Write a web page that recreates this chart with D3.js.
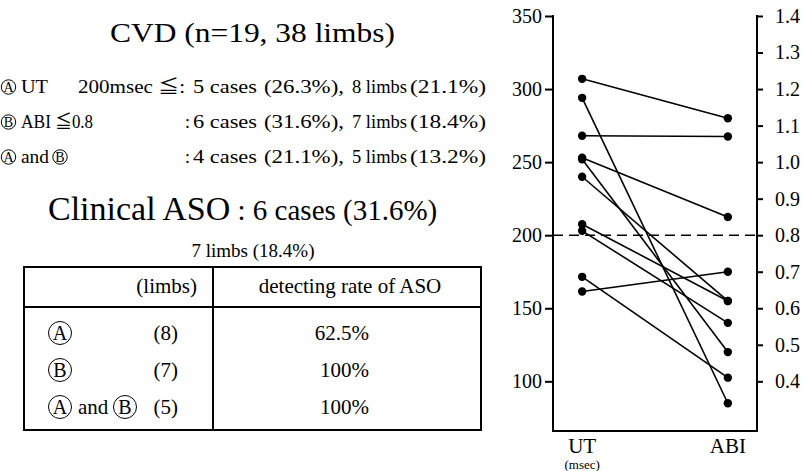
<!DOCTYPE html>
<html><head><meta charset="utf-8">
<script src="https://cdn.jsdelivr.net/npm/d3@7"></script>
<style>
html,body{margin:0;padding:0;background:#fff;}
svg{display:block;font-family:"Liberation Serif","Times New Roman","Noto Sans CJK JP",serif;}
</style></head><body>
<svg id="c" width="804" height="471"></svg>
<script>
// ---------- chart data ----------
const measureLabels = ["UT", "ABI"];
const utMsec   = [307, 294, 268, 253, 252, 240, 207.5, 203, 171.5, 161.5];
const abiValue = [1.12, 0.34, 1.07, 0.85, 0.48, 0.62, 0.62, 0.56, 0.41, 0.70];
const msecTicks = [100, 150, 200, 250, 300, 350];
const abiTicks  = [0.4, 0.5, 0.6, 0.7, 0.8, 0.9, 1.0, 1.1, 1.2, 1.3, 1.4];
const msecThreshold = 200;
const abiAtThreshold = 0.8;

// ---------- text data ----------
const titleText = "CVD (n=19, 38 limbs)";
const critMarks = [["A"], ["B"], ["A", "B"]];
const critNames = ["UT", "ABI", "and"];
const critRules = ["200msec ≦:", "≦0.8", ""];
const caseCounts = ["5 cases", "6 cases", "4 cases"];
const casePcts = ["(26.3%),", "(31.6%),", "(21.1%),"];
const limbCounts = ["8 limbs", "7 limbs", "5 limbs"];
const limbPcts = ["(21.1%)", "(18.4%)", "(13.2%)"];
const asoMain = "Clinical ASO";
const asoSub = ": 6 cases (31.6%)";
const asoLimbs = "7 limbs (18.4%)";
const tableHeaders = ["(limbs)", "detecting rate of ASO"];
const tableLimbs = ["(8)", "(7)", "(5)"];
const tableRates = ["62.5%", "100%", "100%"];

const svg = d3.select("#c");

// ---------- chart ----------
const L = 553, R = 757, T = 16, B = 431;
const x = d3.scalePoint().domain(measureLabels).range([L, R]).padding(0.2);
const yMs = d3.scaleLinear().domain([66, 350]).range([B, T]);
const abiOf = m => abiAtThreshold + (m - msecThreshold) / 250;
const yAbi = d3.scaleLinear().domain([abiOf(66), abiOf(350)]).range([B, T]);

const g = svg.append("g");
const leftAxis = d3.axisLeft(yMs).tickValues(msecTicks).tickSize(8).tickPadding(3);
const rightAxis = d3.axisRight(yAbi).tickValues(abiTicks).tickSize(6).tickPadding(12).tickFormat(d3.format(".1f"));
const ga = g.append("g").attr("transform", `translate(${L},0)`).call(leftAxis);
const gb = g.append("g").attr("transform", `translate(${R},0)`).call(rightAxis);
[ga, gb].forEach(a => {
  a.select(".domain").remove();
  a.selectAll(".tick line").attr("stroke", "#000").attr("stroke-width", 2);
  a.selectAll(".tick text").attr("fill", "#000").style("font-size", "20px")
    .style("font-family", '"Liberation Serif","Times New Roman",serif');
});
g.append("line").attr("x1", L).attr("x2", L).attr("y1", T - 1).attr("y2", B + 1).attr("stroke", "#000").attr("stroke-width", 2);
g.append("line").attr("x1", R).attr("x2", R).attr("y1", T - 1).attr("y2", B + 1).attr("stroke", "#000").attr("stroke-width", 2);
g.append("line").attr("x1", L).attr("x2", R).attr("y1", B).attr("y2", B).attr("stroke", "#000").attr("stroke-width", 2);

g.append("line").attr("x1", L).attr("x2", R)
  .attr("y1", yMs(msecThreshold)).attr("y2", yMs(msecThreshold))
  .attr("stroke", "#000").attr("stroke-width", 1.6).attr("stroke-dasharray", "10,6");

const pairs = utMsec.map((u, i) => ({u, a: abiValue[i]}));
g.selectAll("line.pair").data(pairs).enter().append("line").attr("class", "pair")
  .attr("x1", x("UT")).attr("y1", d => yMs(d.u))
  .attr("x2", x("ABI")).attr("y2", d => yAbi(d.a))
  .attr("stroke", "#000").attr("stroke-width", 1.6);
g.selectAll("circle.ut").data(pairs).enter().append("circle")
  .attr("cx", x("UT")).attr("cy", d => yMs(d.u)).attr("r", 4.2).attr("fill", "#000");
g.selectAll("circle.abi").data(pairs).enter().append("circle")
  .attr("cx", x("ABI")).attr("cy", d => yAbi(d.a)).attr("r", 4.2).attr("fill", "#000");

g.selectAll("text.xl").data(measureLabels).enter().append("text")
  .attr("x", d => x(d)).attr("y", 453).attr("text-anchor", "middle")
  .style("font-size", "21px").text(d => d);
g.append("text").attr("x", x("UT")).attr("y", 469).attr("text-anchor", "middle")
  .style("font-size", "13px").text("(msec)");

// ---------- left text ----------
const circ = (sel, cx, cy, r, letter, fs) => {
  sel.append("circle").attr("cx", cx).attr("cy", cy).attr("r", r)
    .attr("fill", "none").attr("stroke", "#000").attr("stroke-width", 1);
  sel.append("text").attr("x", cx).attr("y", cy + fs * 0.34).attr("text-anchor", "middle")
    .style("font-size", fs + "px").text(letter);
};
const seg = (sel, xx, yy, txt, fs, w) => {
  const t = sel.append("text").attr("x", xx).attr("y", yy).style("font-size", fs + "px").text(txt);
  if (w) t.attr("textLength", w).attr("lengthAdjust", "spacingAndGlyphs");
  return t;
};

svg.append("text").attr("x", 110).attr("y", 42).style("font-size", "28px")
  .attr("textLength", 285).attr("lengthAdjust", "spacingAndGlyphs").text(titleText);

const rowY = [93, 128, 163];
const lt = svg.append("g");
rowY.forEach((yy, i) => {
  circ(lt, 8.5, yy - 6, 7.2, critMarks[i][0], 14);
  if (i === 0) { seg(lt, 21, yy, critNames[i], 18, 27); seg(lt, 78, yy, critRules[i], 18, 107); }
  if (i === 1) { seg(lt, 21, yy, critNames[i], 18, 30); seg(lt, 55, yy, critRules[i], 18, 38); }
  if (i === 2) { seg(lt, 21, yy, critNames[i], 18, 28); circ(lt, 60, yy - 6, 7.2, critMarks[i][1], 14); }
  if (i > 0) seg(lt, 185, yy, ":", 18);
  seg(lt, 193, yy, caseCounts[i], 18, 64);
  seg(lt, 264, yy, casePcts[i], 18, 80);
  seg(lt, 352, yy, limbCounts[i], 18, 55);
  seg(lt, 410, yy, limbPcts[i], 18, 76);
});

const ct = svg.append("text").attr("x", 48).attr("y", 220);
ct.append("tspan").style("font-size", "34px").text(asoMain);
ct.append("tspan").style("font-size", "29px").text(" " + asoSub);
svg.append("text").attr("x", 253).attr("y", 257).attr("text-anchor", "middle")
  .style("font-size", "19px").text(asoLimbs);

// table
const TL = 24, TR = 481, TT = 267, TD = 307, TB = 430, TV = 213;
const tb = svg.append("g").attr("stroke", "#000").attr("stroke-width", 2);
tb.append("rect").attr("x", TL).attr("y", TT).attr("width", TR - TL).attr("height", TB - TT).attr("fill", "none");
tb.append("line").attr("x1", TL).attr("x2", TR).attr("y1", TD).attr("y2", TD);
tb.append("line").attr("x1", TV).attr("x2", TV).attr("y1", TT).attr("y2", TB);

svg.append("text").attr("x", 197).attr("y", 293).attr("text-anchor", "end").style("font-size", "21px").text(tableHeaders[0]);
svg.append("text").attr("x", 350).attr("y", 293).attr("text-anchor", "middle").style("font-size", "21px").text(tableHeaders[1]);

const trY = [340, 377, 414];
trY.forEach((yy, i) => {
  circ(svg, 60, yy - 7, 11.5, critMarks[i][0], 20);
  if (i === 2) {
    seg(svg, 78, yy, "and", 21);
    circ(svg, 125, yy - 7, 11.5, critMarks[i][1], 20);
  }
  svg.append("text").attr("x", 178).attr("y", yy).attr("text-anchor", "end").style("font-size", "21px").text(tableLimbs[i]);
  svg.append("text").attr("x", 369).attr("y", yy).attr("text-anchor", "end").style("font-size", "21px").text(tableRates[i]);
});
</script></body></html>
